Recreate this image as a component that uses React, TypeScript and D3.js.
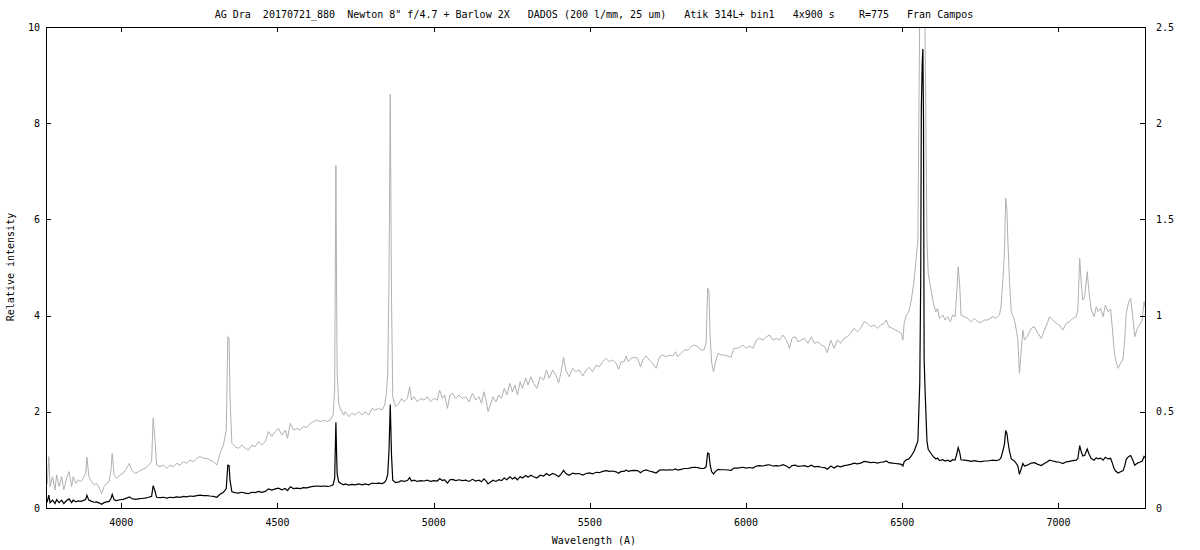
import React from "react";
import * as d3 from "d3";

const title =
  'AG Dra  20170721_880  Newton 8" f/4.7 + Barlow 2X   DADOS (200 l/mm, 25 um)   Atik 314L+ bin1   4x900 s    R=775   Fran Campos';
const xLabel = "Wavelength (A)";
const yLabel = "Relative intensity";
const xTicks = [4000, 4500, 5000, 5500, 6000, 6500, 7000];
const yTicks = [0, 2, 4, 6, 8, 10];
const y2Ticks = [0, 0.5, 1, 1.5, 2, 2.5];

const wavelength = [
  3759, 3763, 3768, 3772, 3780, 3788, 3793, 3801, 3809, 3816, 3825, 3833, 3841, 3846, 3855, 3862, 3870, 3878, 3886, 3890,
  3896, 3905, 3913, 3921, 3930, 3937, 3945, 3953, 3961, 3967, 3971, 3977, 3985, 3996, 4006, 4017, 4026, 4033, 4044, 4055,
  4065, 4076, 4087, 4097, 4102, 4108, 4113, 4124, 4135, 4146, 4156, 4167, 4178, 4188, 4199, 4210, 4220, 4231, 4242, 4252,
  4263, 4274, 4284, 4295, 4306, 4316, 4327, 4336, 4341, 4345, 4348, 4354, 4364, 4375, 4386, 4397, 4407, 4418, 4429, 4439,
  4450, 4461, 4471, 4482, 4493, 4503, 4514, 4525, 4532, 4541, 4551, 4562, 4573, 4583, 4594, 4605, 4615, 4626, 4637, 4648,
  4658, 4669, 4678, 4683, 4685, 4687, 4689, 4691, 4696, 4703, 4712, 4717, 4728, 4739, 4749, 4760, 4771, 4781, 4792, 4803,
  4813, 4824, 4835, 4843, 4848, 4853, 4857, 4861, 4865, 4869, 4878, 4889, 4897, 4905, 4916, 4923, 4929, 4937, 4948, 4958,
  4969, 4980, 4990, 5001, 5012, 5019, 5028, 5035, 5044, 5052, 5060, 5071, 5081, 5092, 5103, 5113, 5124, 5135, 5145, 5153,
  5161, 5169, 5174, 5183, 5190, 5199, 5209, 5217, 5226, 5234, 5244, 5252, 5260, 5268, 5277, 5284, 5295, 5302, 5311, 5320,
  5330, 5341, 5352, 5361, 5370, 5381, 5391, 5400, 5407, 5416, 5423, 5434, 5445, 5455, 5466, 5477, 5488, 5498, 5509, 5520,
  5530, 5541, 5552, 5562, 5573, 5584, 5592, 5600, 5610, 5616, 5623, 5632, 5642, 5653, 5662, 5669, 5680, 5690, 5701, 5712,
  5723, 5733, 5744, 5755, 5765, 5774, 5781, 5792, 5803, 5814, 5824, 5835, 5846, 5856, 5865, 5872, 5877, 5881, 5885, 5890,
  5896, 5901, 5910, 5920, 5931, 5942, 5952, 5961, 5972, 5982, 5990, 6000, 6011, 6022, 6033, 6043, 6054, 6065, 6075, 6086,
  6097, 6107, 6118, 6129, 6139, 6147, 6158, 6166, 6177, 6187, 6198, 6209, 6219, 6230, 6241, 6252, 6260, 6271, 6282, 6292,
  6303, 6314, 6324, 6335, 6346, 6356, 6367, 6378, 6388, 6399, 6410, 6420, 6431, 6442, 6449, 6457, 6468, 6478, 6489, 6497,
  6502, 6506, 6513, 6521, 6529, 6538, 6545, 6550, 6553, 6556, 6559, 6561, 6564, 6566, 6568, 6570, 6573, 6579, 6583, 6592,
  6601, 6608, 6613, 6619, 6630, 6637, 6645, 6654, 6661, 6669, 6675, 6679, 6684, 6688, 6699, 6710, 6720, 6731, 6742, 6752,
  6763, 6774, 6782, 6790, 6800, 6811, 6816, 6822, 6827, 6831, 6835, 6838, 6843, 6849, 6859, 6865, 6870, 6875, 6881, 6886,
  6891, 6900, 6907, 6913, 6923, 6934, 6945, 6955, 6966, 6971, 6982, 6993, 7003, 7014, 7025, 7035, 7046, 7057, 7062, 7068,
  7073, 7078, 7084, 7092, 7098, 7105, 7114, 7121, 7127, 7135, 7143, 7150, 7159, 7167, 7172, 7178, 7183, 7191, 7199, 7207,
  7212, 7217, 7225, 7231, 7239, 7244, 7253, 7260, 7268, 7274, 7277,
];

const intensity = [
  0.12, 0.128, 0.267, 0.111, 0.163, 0.094, 0.172, 0.111, 0.163, 0.094, 0.156, 0.189, 0.111, 0.163, 0.128, 0.146, 0.137, 0.154, 0.18, 0.264,
  0.163, 0.137, 0.12, 0.128, 0.102, 0.076, 0.111, 0.128, 0.137, 0.198, 0.284, 0.172, 0.154, 0.172, 0.18, 0.206, 0.232, 0.198, 0.18, 0.189,
  0.198, 0.206, 0.223, 0.241, 0.466, 0.353, 0.223, 0.215, 0.223, 0.206, 0.223, 0.215, 0.232, 0.223, 0.241, 0.232, 0.249, 0.241, 0.258, 0.267,
  0.258, 0.258, 0.249, 0.241, 0.223, 0.284, 0.327, 0.405, 0.89, 0.884, 0.578, 0.336, 0.319, 0.31, 0.327, 0.31, 0.301, 0.327, 0.319, 0.345,
  0.327, 0.345, 0.397, 0.371, 0.397, 0.414, 0.379, 0.405, 0.362, 0.44, 0.405, 0.414, 0.405, 0.423, 0.419, 0.44, 0.449, 0.457, 0.449, 0.457,
  0.449, 0.457, 0.483, 0.613, 1.2, 1.78, 1.2, 0.702, 0.544, 0.509, 0.483, 0.501, 0.475, 0.492, 0.483, 0.501, 0.483, 0.501, 0.483, 0.518,
  0.509, 0.518, 0.509, 0.535, 0.587, 0.7, 1.2, 2.15, 1.1, 0.578, 0.527, 0.544, 0.57, 0.552, 0.57, 0.63, 0.561, 0.578, 0.552, 0.57,
  0.561, 0.578, 0.552, 0.57, 0.561, 0.613, 0.57, 0.587, 0.518, 0.587, 0.596, 0.57, 0.587, 0.57, 0.578, 0.552, 0.596, 0.561, 0.578, 0.544,
  0.604, 0.552, 0.501, 0.544, 0.578, 0.552, 0.587, 0.57, 0.622, 0.587, 0.648, 0.604, 0.639, 0.587, 0.656, 0.622, 0.674, 0.639, 0.682, 0.648,
  0.622, 0.682, 0.665, 0.717, 0.674, 0.717, 0.691, 0.651, 0.7, 0.783, 0.717, 0.682, 0.726, 0.708, 0.717, 0.686, 0.717, 0.731, 0.708, 0.743,
  0.734, 0.76, 0.778, 0.76, 0.769, 0.752, 0.721, 0.76, 0.76, 0.79, 0.76, 0.778, 0.783, 0.778, 0.734, 0.769, 0.79, 0.769, 0.752, 0.726,
  0.786, 0.795, 0.786, 0.795, 0.79, 0.812, 0.786, 0.804, 0.821, 0.821, 0.838, 0.847, 0.838, 0.821, 0.821, 0.856, 1.142, 1.133, 0.89, 0.752,
  0.708, 0.752, 0.804, 0.795, 0.795, 0.79, 0.783, 0.83, 0.83, 0.838, 0.847, 0.83, 0.842, 0.83, 0.873, 0.882, 0.873, 0.89, 0.899, 0.873,
  0.882, 0.873, 0.899, 0.873, 0.83, 0.882, 0.89, 0.864, 0.873, 0.882, 0.856, 0.89, 0.856, 0.864, 0.847, 0.838, 0.807, 0.873, 0.83, 0.873,
  0.856, 0.882, 0.89, 0.908, 0.934, 0.916, 0.934, 0.968, 0.96, 0.942, 0.951, 0.934, 0.951, 0.96, 0.977, 0.942, 0.934, 0.925, 0.916, 0.908,
  0.873, 0.96, 1.003, 1.02, 1.081, 1.185, 1.306, 1.393, 2.0, 2.6, 4.7, 8.3, 9.3, 9.54, 8.0, 3.08, 2.45, 1.393, 1.22, 1.133,
  1.055, 1.02, 1.038, 0.986, 1.003, 0.977, 0.994, 0.968, 1.003, 0.994, 1.133, 1.254, 1.15, 1.003, 0.994, 0.986, 0.968, 0.986, 0.968, 0.964,
  0.977, 0.977, 0.987, 0.994, 0.986, 1.003, 1.046, 1.185, 1.324, 1.61, 1.55, 1.393, 1.185, 1.02, 0.977, 0.925, 0.873, 0.7, 0.821, 0.925,
  0.873, 0.89, 0.916, 0.934, 0.942, 0.908, 0.882, 0.925, 0.968, 0.994, 0.977, 0.96, 0.951, 0.925, 0.96, 0.968, 0.986, 0.994, 1.029, 1.298,
  1.168, 1.081, 1.098, 1.228, 1.116, 1.029, 0.994, 1.046, 1.02, 1.038, 0.994, 1.055, 1.02, 1.033, 0.942, 0.821, 0.769, 0.726, 0.752, 0.778,
  0.873, 1.012, 1.072, 1.09, 0.977, 0.89, 0.934, 0.951, 0.977, 1.072, 1.046,
];

const W = 1200;
const H = 550;
const L = 46;
const R = 1145;
const T = 27;
const B = 508;
const FONT = "'DejaVu Sans Mono', monospace";

export default function App() {
  const x = d3.scaleLinear().domain([3759, 7277]).range([L, R]);
  const y = d3.scaleLinear().domain([0, 10]).range([B, T]);
  const y2 = d3.scaleLinear().domain([0, 2.5]).range([B, T]);
  const pts = wavelength.map((w, i) => [w, intensity[i]] as [number, number]);
  const lineY = d3.line<[number, number]>().x((d) => x(d[0])).y((d) => y(d[1]));
  const lineY2 = d3.line<[number, number]>().x((d) => x(d[0])).y((d) => y2(d[1]));
  const tick = 5;
  return (
    <svg
      width={W}
      height={H}
      style={{ position: "absolute", left: 0, top: 0, background: "#fff" }}
      fontFamily={FONT}
      fontSize={10}
    >
      <rect x={0} y={0} width={W} height={H} fill="#fff" />
      <defs>
        <clipPath id="plotclip">
          <rect x={L} y={T} width={R - L} height={B - T} />
        </clipPath>
      </defs>
      <g clipPath="url(#plotclip)">
        <path d={lineY2(pts) || ""} fill="none" stroke="#b0b0b0" strokeWidth={1} />
        <path d={lineY(pts) || ""} fill="none" stroke="#000" strokeWidth={1.2} />
      </g>
      <rect x={L + 0.5} y={T + 0.5} width={R - L} height={B - T} fill="none" stroke="#000" strokeWidth={1} />
      {xTicks.map((t) => (
        <g key={"x" + t}>
          <line x1={Math.round(x(t)) + 0.5} x2={Math.round(x(t)) + 0.5} y1={B} y2={B - tick} stroke="#000" />
          <line x1={Math.round(x(t)) + 0.5} x2={Math.round(x(t)) + 0.5} y1={T} y2={T + tick} stroke="#000" />
          <text x={x(t)} y={526} textAnchor="middle">
            {t}
          </text>
        </g>
      ))}
      {yTicks.map((t) => (
        <g key={"y" + t}>
          <line x1={L} x2={L + tick} y1={Math.round(y(t)) + 0.5} y2={Math.round(y(t)) + 0.5} stroke="#000" />
          <text x={40} y={y(t)} dy="0.35em" textAnchor="end">
            {t}
          </text>
        </g>
      ))}
      {y2Ticks.map((t) => (
        <g key={"y2" + t}>
          <line x1={R - tick} x2={R} y1={Math.round(y2(t)) + 0.5} y2={Math.round(y2(t)) + 0.5} stroke="#000" />
          <text x={1156} y={y2(t)} dy="0.35em" textAnchor="start">
            {t}
          </text>
        </g>
      ))}
      <text x={594} y={18} textAnchor="middle" xmlSpace="preserve" style={{ whiteSpace: "pre" }}>
        {title}
      </text>
      <text x={594} y={544} textAnchor="middle">
        {xLabel}
      </text>
      <text transform="translate(14,267) rotate(-90)" textAnchor="middle">
        {yLabel}
      </text>
    </svg>
  );
}
